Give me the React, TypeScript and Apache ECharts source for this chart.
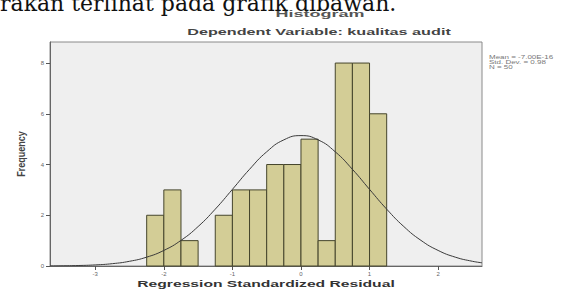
import React, { useEffect, useRef } from "react";
import * as echarts from "echarts";

const binStarts = [-2.25, -2, -1.75, -1.5, -1.25, -1, -0.75, -0.5, -0.25, 0, 0.25, 0.5, 0.75, 1.0];
const binWidth = 0.25;
const frequencies = [2, 3, 1, 0, 2, 3, 3, 4, 4, 5, 1, 8, 8, 6];
const xTicks = [-3, -2, -1, 0, 1, 2];
const yTicks = [0, 2, 4, 6, 8];
const curveX = [-3.66, -3.5, -3.25, -3, -2.75, -2.5, -2.25, -2, -1.75, -1.5, -1.25, -1, -0.75, -0.5, -0.25, 0, 0.25, 0.5, 0.75, 1, 1.25, 1.5, 1.75, 2, 2.25, 2.5, 2.64];
const curveY = [0.004, 0.008, 0.019, 0.043, 0.092, 0.186, 0.349, 0.614, 1.01, 1.555, 2.241, 3.021, 3.812, 4.501, 4.972, 5.14, 4.972, 4.501, 3.812, 3.021, 2.241, 1.555, 1.01, 0.614, 0.349, 0.186, 0.127];
const statsLines = ["Mean = -7.00E-16", "Std. Dev. = 0.98", "N = 50"];
const titleText = "Histogram";
const subtitleText = "Dependent Variable: kualitas audit";
const xName = "Regression Standardized Residual";
const yName = "Frequency";
const captionText = "rakan terlihat pada grafik dibawah.";

export default function App() {
  const ref = useRef<HTMLDivElement>(null);
  useEffect(() => {
    if (!ref.current) return;
    const chart = echarts.init(ref.current, undefined, { renderer: "svg" });
    const barData = binStarts.map((s, i) => [s, s + binWidth, frequencies[i]]);
    chart.setOption({
      animation: false,
      backgroundColor: "#ffffff",
      grid: {
        left: 50,
        right: 87,
        top: 42,
        bottom: 27,
        show: true,
        backgroundColor: "#EFEFEF",
        borderColor: "#8a8a8a",
        borderWidth: 1,
      },
      xAxis: {
        type: "value",
        min: -3.66,
        max: 2.64,
        axisLine: { show: true, onZero: false, lineStyle: { color: "#666", width: 1 } },
        axisTick: { show: true, customValues: xTicks, length: 4, inside: false, lineStyle: { color: "#555" } },
        axisLabel: { customValues: xTicks, fontSize: 6, color: "#666", margin: 5, fontFamily: "Liberation Sans" },
        splitLine: { show: false },
      },
      yAxis: {
        type: "value",
        min: 0,
        max: 8.83,
        axisLine: { show: true, onZero: false, lineStyle: { color: "#666", width: 1 } },
        axisTick: { show: true, customValues: yTicks, length: 4, lineStyle: { color: "#555" } },
        axisLabel: { customValues: yTicks, fontSize: 6, color: "#666", margin: 6, fontFamily: "Liberation Sans" },
        splitLine: { show: false },
      },
      series: [
        {
          type: "custom",
          data: barData,
          encode: { x: [0, 1], y: 2 },
          renderItem: (params: any, api: any) => {
            const x0 = api.value(0);
            const x1 = api.value(1);
            const v = api.value(2);
            if (!v) return null;
            const p0 = api.coord([x0, v]);
            const p1 = api.coord([x1, 0]);
            return {
              type: "rect",
              shape: { x: p0[0], y: p0[1], width: p1[0] - p0[0], height: p1[1] - p0[1] },
              style: { fill: "#D3CD96", stroke: "#45452c", lineWidth: 1 },
            };
          },
          z: 2,
        },
        {
          type: "line",
          data: curveX.map((x, i) => [x, curveY[i]]),
          smooth: true,
          showSymbol: false,
          lineStyle: { color: "#3a3a3a", width: 1 },
          z: 3,
        },
      ],
      graphic: [
        {
          type: "text",
          left: 0,
          top: -8,
          style: { text: captionText, font: "22px 'DejaVu Serif'", fill: "#111" },
        },
        {
          type: "text",
          x: 320,
          y: 14,
          scaleX: 2.0,
          style: { text: titleText, font: "bold 9px 'Liberation Sans'", fill: "#555", align: "center", verticalAlign: "middle" },
        },
        {
          type: "text",
          x: 319,
          y: 32,
          scaleX: 1.8,
          style: { text: subtitleText, font: "bold 9px 'Liberation Sans'", fill: "#444", align: "center", verticalAlign: "middle" },
        },
        {
          type: "text",
          x: 266,
          y: 284,
          scaleX: 1.74,
          style: { text: xName, font: "bold 9px 'Liberation Sans'", fill: "#333", align: "center", verticalAlign: "middle" },
        },
        {
          type: "text",
          x: 21,
          y: 154,
          rotation: Math.PI / 2,
          scaleY: 1.3,
          style: { text: yName, font: "bold 9px 'Liberation Sans'", fill: "#444", align: "center", verticalAlign: "middle" },
        },
        {
          type: "text",
          x: 489,
          y: 55,
          scaleX: 1.6,
          style: { text: statsLines.join("\n"), font: "5px 'Liberation Sans'", fill: "#777", lineHeight: 5 },
        },
      ],
    });
    return () => chart.dispose();
  }, []);
  return <div ref={ref} style={{ position: "fixed", left: 0, top: 0, width: 569, height: 293 }} />;
}
